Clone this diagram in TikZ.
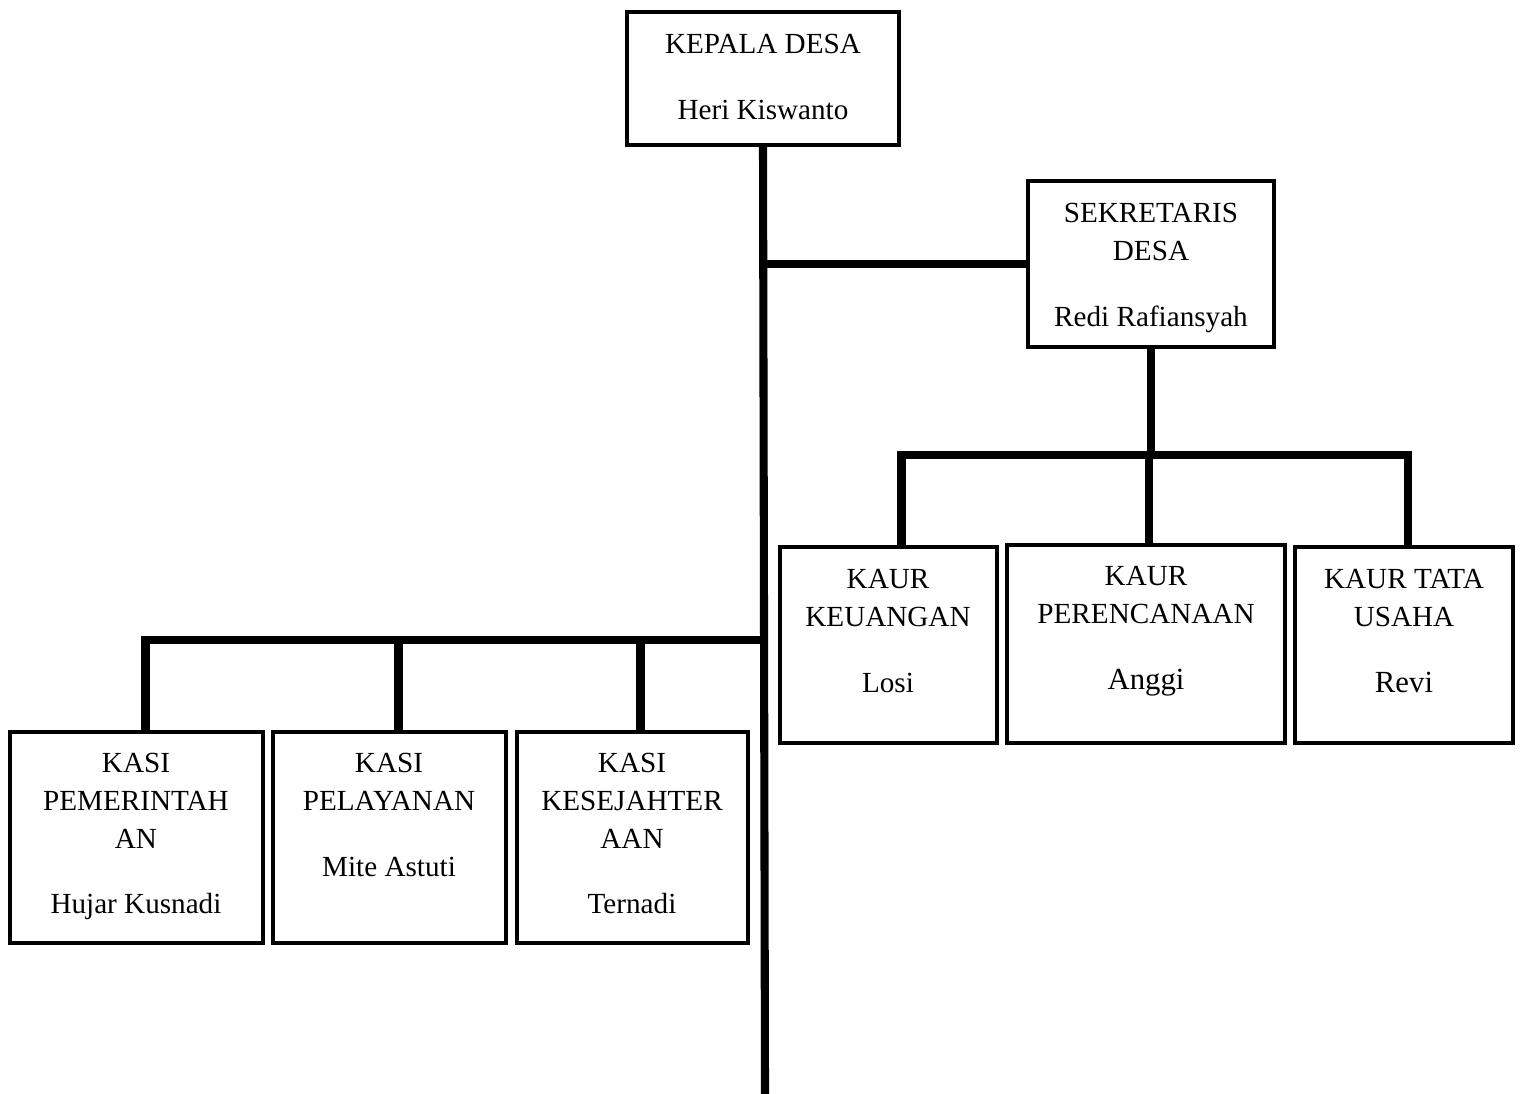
\documentclass[tikz,border=0pt]{standalone}
\usepackage{fontspec}
\setmainfont{Liberation Serif}
\usetikzlibrary{fit}

\tikzset{
    kotak/.style={draw, rectangle, line width=2.4pt, inner sep=0pt},
    isi/.style={anchor=north, align=center, inner sep=0pt, font=\fontsize{16.6}{21.5}\selectfont},
    garis/.style={line width=4.6pt}
}

\begin{document}
\begin{tikzpicture}[x=0.02cm, y=-0.02cm]
    \useasboundingbox (0,0) rectangle (1520,1094);

    % Kepala Desa
    \node[kotak, fit={(627,12) (899,145)}] (kades) {};
    \node[isi] (tkades) at (763,34) {KEPALA DESA\\[15.9pt]Heri Kiswanto};

    % Sekretaris Desa
    \node[kotak, fit={(1028,181) (1274,347)}] (sekdes) {};
    \node[isi] (tsekdes) at (1151,203) {SEKRETARIS\\DESA\\[15.9pt]Redi Rafiansyah};

    % Kepala Urusan
    \node[kotak, fit={(780,547) (997,743)}] (keu) {};
    \node[isi] (tkeu) at (888,569) {KAUR\\KEUANGAN\\[15.9pt]Losi};

    \node[kotak, fit={(1007,545) (1285,743)}] (renc) {};
    \node[isi] (trenc) at (1146,566) {KAUR\\PERENCANAAN\\[15.9pt]{\fontsize{17.5}{21.5}\selectfont Anggi}};

    \node[kotak, fit={(1295,547) (1513,743)}] (tu) {};
    \node[isi] (ttu) at (1404,569) {KAUR TATA\\USAHA\\[15.9pt]{\fontsize{17.5}{21.5}\selectfont Revi}};

    % Kepala Seksi
    \node[kotak, fit={(10,732) (263,943)}] (pem) {};
    \node[isi] (tpem) at (136,753) {KASI\\PEMERINTAH\\AN\\[15.9pt]Hujar Kusnadi};

    \node[kotak, fit={(273,732) (506,943)}] (pel) {};
    \node[isi] (tpel) at (389,753) {KASI\\PELAYANAN\\[15.9pt]Mite Astuti};

    \node[kotak, fit={(517,732) (748,943)}] (kes) {};
    \node[isi] (tkes) at (632,753) {KASI\\KESEJAHTER\\AAN\\[15.9pt]Ternadi};

    % Garis
    \coordinate (bawah) at (765,1094);
    \coordinate (cabang) at (1151,455);
    \coordinate (simpang) at (764,640);

    \draw[garis] (kades.south) -- (bawah);
    \draw[garis] (sekdes.west) -- (sekdes.west -| kades.south);

    \draw[garis] (sekdes.south) -- (cabang);
    \draw[garis] (keu.north) ++(13,0) |- (cabang) -| ([xshift=0.08cm]tu.north);
    \draw[garis] (renc.north) ++(3,0) -- ++(0,-92);

    \draw[garis] (pem.north) ++(9,0) |- (simpang);
    \draw[garis] (pel.north) ++(9,0) -- ++(0,-92);
    \draw[garis] (kes.north) ++(8,0) -- ++(0,-92);
\end{tikzpicture}
\end{document}
